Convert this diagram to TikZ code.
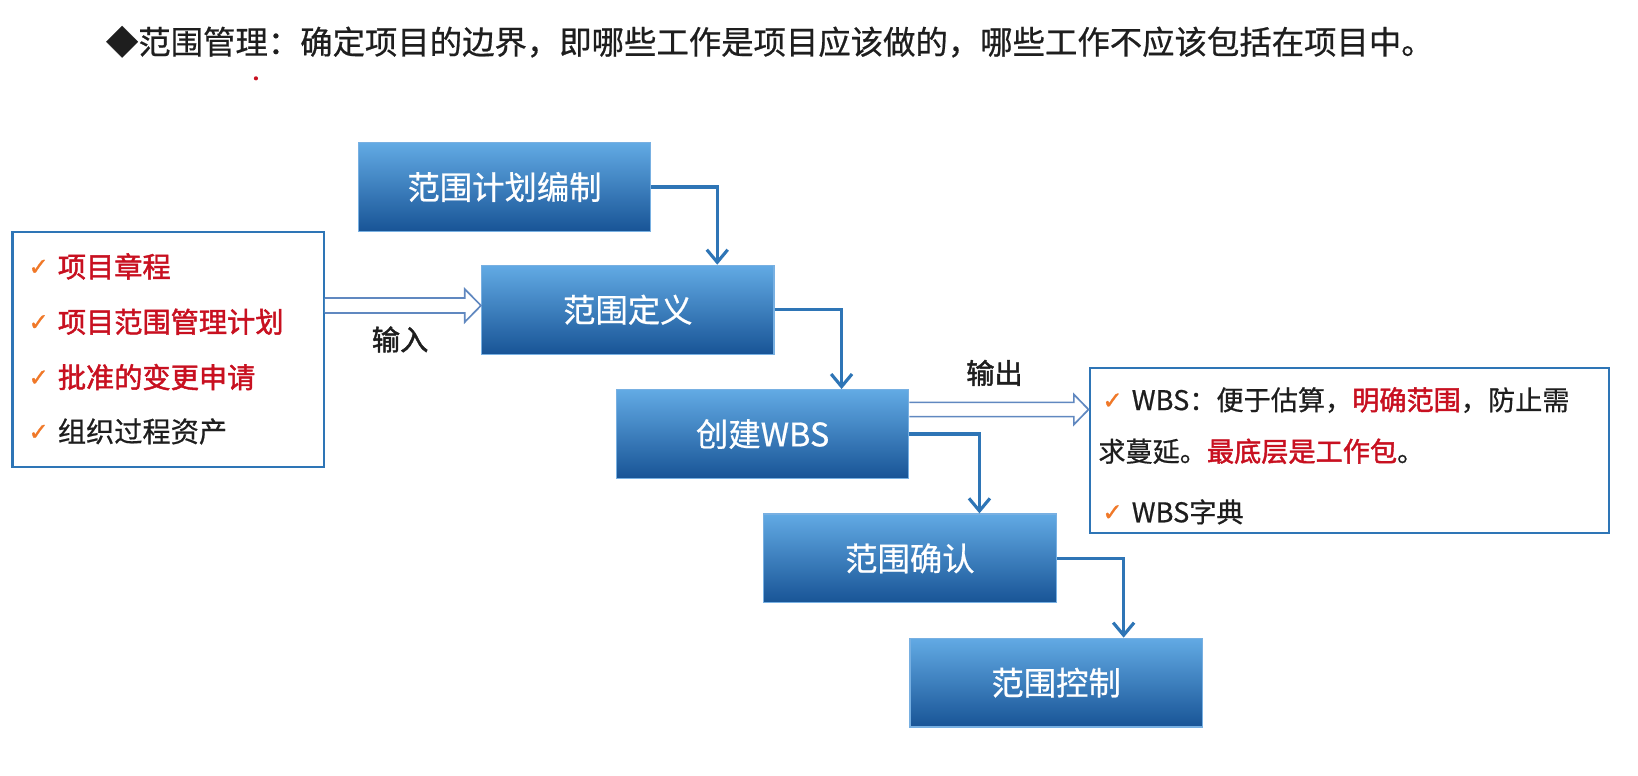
\documentclass[tikz,border=0pt]{standalone}
\usepackage{fontspec}
\setmainfont{Noto Sans CJK SC}
\newfontfamily\medfont[FakeBold=0.6]{Noto Sans CJK SC}
\newfontfamily\strongfont[FakeBold=1.6]{Noto Sans CJK SC}
\newfontfamily\symfont[FakeBold=1.2]{DejaVu Sans}
\usetikzlibrary{arrows.meta,calc}

\definecolor{boxtop}{RGB}{98,170,228}
\definecolor{boxbot}{RGB}{24,84,150}
\definecolor{boxedge}{RGB}{120,176,226}
\definecolor{flowblue}{RGB}{46,117,182}
\definecolor{hollowedge}{RGB}{96,136,192}
\definecolor{keyred}{RGB}{200,16,32}
\definecolor{tickorange}{RGB}{240,120,40}
\definecolor{txt}{RGB}{30,30,30}

\tikzset{
  stepbox/.style={rectangle, draw=boxedge, line width=0.6pt,
    top color=boxtop, bottom color=boxbot,
    minimum width=140pt, minimum height=42.5pt, inner sep=0pt,
    text=white, font=\medfont\fontsize{15.5}{18}\selectfont},
  listbox/.style={rectangle, draw=flowblue, line width=1pt, fill=white, inner sep=0pt},
  flow/.style={draw=flowblue, line width=1.5pt, line join=miter,
    -{Straight Barb[length=6pt,width=10pt,line width=1.5pt]}},
  hollow/.style={draw=hollowedge, line width=0.8pt, fill=white, line join=miter},
  tick/.style={text=tickorange, font=\symfont\fontsize{11.5}{13}\selectfont, inner sep=0pt},
  item/.style={anchor=west, inner sep=0pt, text=txt, font=\medfont\fontsize{13.5}{16}\selectfont},
  keyitem/.style={item, text=keyred, font=\strongfont\fontsize{13.5}{16}\selectfont},
  note/.style={anchor=west, inner sep=0pt, text=txt, font=\medfont\fontsize{13}{16}\selectfont},
  ioword/.style={inner sep=0pt, text=txt, font=\strongfont\fontsize{13.5}{16}\selectfont},
}

\begin{document}
\begin{tikzpicture}[x=0.5pt, y=-0.5pt]
  \useasboundingbox[fill=white] (0,0) rectangle (1568,742);

  % heading
  \node[anchor=west, inner sep=0pt, text=txt, font=\medfont\fontsize{15.5}{18}\selectfont]
    (title) at (101,40) {◆范围管理：确定项目的边界，即哪些工作是项目应该做的，哪些工作不应该包括在项目中。};
  \fill[keyred] (245,75) circle (1pt);

  % process steps
  \node[stepbox] (plan)    at (483,179)   {范围计划编制};
  \node[stepbox] (define)  at (601,296.5) {范围定义};
  \node[stepbox] (wbs)     at (730,415.5) {创建WBS};
  \node[stepbox] (verify)  at (871,534.5) {范围确认};
  \node[stepbox] (control) at (1011,653.5){范围控制};

  % stepwise connectors
  \draw[flow] (plan.east)   -| ($(define.north east)+(-55,0)$);
  \draw[flow] (define.east) -| ($(wbs.north east)+(-65,0)$);
  \draw[flow] (wbs.east)    -| ($(verify.north east)+(-74,0)$);
  \draw[flow] (verify.east) -| ($(control.north east)+(-76,0)$);

  % inputs
  \node[listbox, minimum width=149pt, minimum height=112.5pt] (inputs) at (161,334.5) {};
  \node[tick] (t1) at (37,256) {✓};
  \node[keyitem] (i1) at (55,255) {项目章程};
  \node[tick] (t2) at (37,309) {✓};
  \node[keyitem] (i2) at (55,308) {项目范围管理计划};
  \node[tick] (t3) at (37,362) {✓};
  \node[keyitem] (i3) at (55,361) {批准的变更申请};
  \node[tick] (t4) at (37,414) {✓};
  \node[item] (i4) at (55,413) {组织过程资产};

  % outputs
  \node[listbox, minimum width=248.5pt, minimum height=79pt] (outputs) at (1291.5,431) {};
  \node[tick] (t5) at (1065,384) {✓};
  \node[note] (o1) at (1083,383) {WBS：便于估算，\textcolor{keyred}{\strongfont 明确范围}，防止需};
  \node[note] (o2) at (1051,432) {求蔓延。\textcolor{keyred}{\strongfont 最底层是工作包}。};
  \node[tick] (t6) at (1065,491) {✓};
  \node[note] (o3) at (1083,490) {WBS字典};

  % hollow block arrows
  \coordinate (inA) at (inputs.east |- 0,292.5);
  \coordinate (inB) at (define.west |- 0,292.5);
  \draw[hollow] ($(inA)+(0,-7.2)$) -- ($(inB)+(-15.5,-7.2)$) -- ($(inB)+(-15.5,-15.8)$)
    -- (inB) -- ($(inB)+(-15.5,15.8)$) -- ($(inB)+(-15.5,7.2)$) -- ($(inA)+(0,7.2)$);
  \node[ioword] (inlabel) at (383,325) {输入};

  \coordinate (outA) at (wbs.east |- 0,392);
  \coordinate (outB) at (outputs.west |- 0,392);
  \draw[hollow] ($(outA)+(0,-6.8)$) -- ($(outB)+(-14,-6.8)$) -- ($(outB)+(-14,-14.4)$)
    -- (outB) -- ($(outB)+(-14,14.4)$) -- ($(outB)+(-14,6.8)$) -- ($(outA)+(0,6.8)$);
  \node[ioword] (outlabel) at (952,357) {输出};
\end{tikzpicture}
\end{document}
